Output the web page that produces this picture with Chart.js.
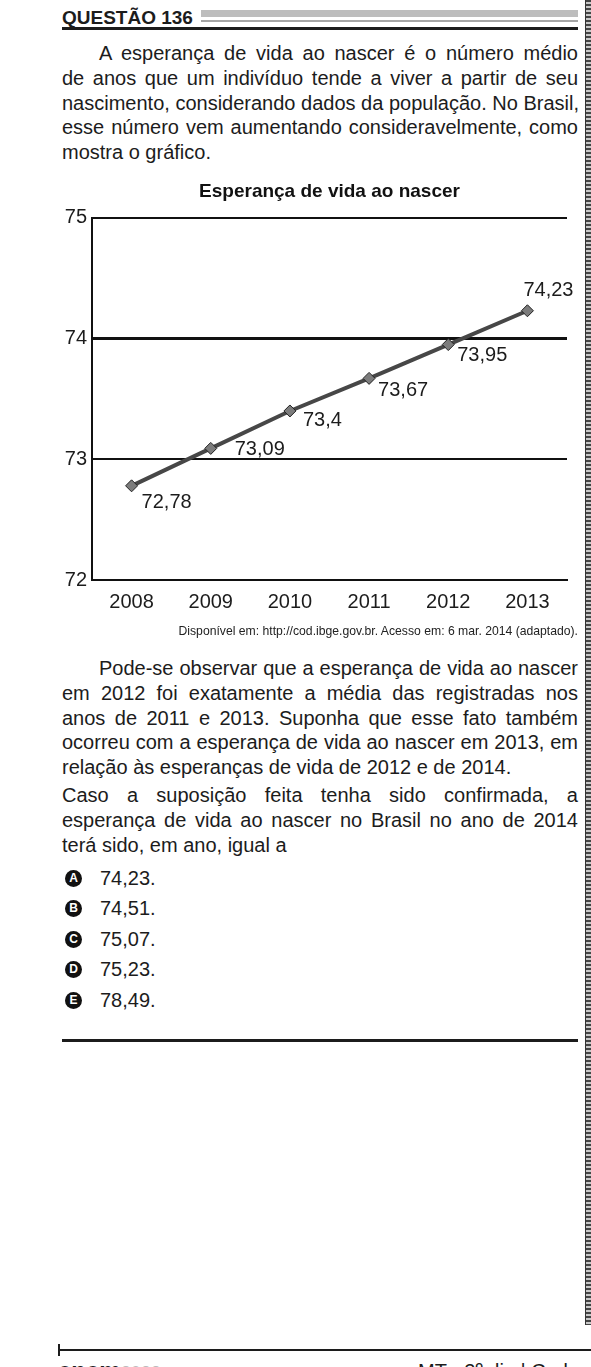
<!DOCTYPE html>
<html lang="pt-BR">
<head>
<meta charset="utf-8">
<title>Questão 136</title>
<script src="https://cdn.jsdelivr.net/npm/chart.js@4.4.1/dist/chart.umd.min.js"></script>
<style>
  html, body { margin: 0; padding: 0; background: #fff; }
  body { width: 591px; height: 1367px; position: relative; overflow: hidden;
         font-family: "Liberation Sans", Arial, sans-serif; color: #1c1c1c; }
  .abs { position: absolute; }
  #head-text { left: 62px; top: 7px; font-weight: bold; font-size: 19px; line-height: 22px; }
  #head-bar  { left: 201px; top: 10px; width: 377px; height: 7px; background: #bdbdbd; }
  #head-thin { left: 201px; top: 20px; width: 377px; height: 2px; background: #a5a5a5; }
  #head-rule { left: 62px; top: 27px; width: 516px; height: 3px; background: #1c1c1c; }
  .para { left: 62px; width: 516px; font-size: 20px; line-height: 24.75px; }
  .para div { text-align: justify; text-align-last: justify; white-space: nowrap; }
  .para div.last { text-align-last: left; }
  .para div.ind { padding-left: 37px; }
  #chart-box { left: 62px; top: 180px; width: 516px; height: 444px; }
  #source { right: 13px; top: 623px; font-size: 12.2px; line-height: 16px; color: #222; }
  .opt { left: 62px; height: 30.5px; display: flex; align-items: center; font-size: 20px; }
  .badge { flex: none; display: inline-block; width: 17px; height: 17px; border-radius: 50%;
           background: #111; color: #fff; font-weight: bold; font-size: 12px; line-height: 17px;
           text-align: center; margin-left: 3px; margin-right: 18px; }
  #end-rule { left: 62px; top: 1039px; width: 516px; height: 3px; background: #1c1c1c; }
  #stripe { left: 585px; top: 0; width: 5px; height: 1325px; border-left: 1px solid #333;
            background: repeating-linear-gradient(to bottom, #444 0 2px, #c8c8c8 2px 4px); }
  #foot-rule { left: 58px; top: 1349px; width: 533px; height: 2px; background: #1c1c1c; }
  #foot-tick { left: 58px; top: 1344px; width: 2px; height: 12px; background: #1c1c1c; }
  #foot-left { left: 58px; top: 1358px; font-size: 24px; font-weight: bold; line-height: 26px; }
  #foot-left span { font-weight: normal; color: #bbb; font-size: 18px; }
  #foot-right { left: 418px; top: 1358px; font-size: 20px; line-height: 26px; white-space: nowrap; }
</style>
</head>
<body>

<div id="head-text" class="abs">QUESTÃO 136</div>
<div id="head-bar" class="abs"></div>
<div id="head-thin" class="abs"></div>
<div id="head-rule" class="abs"></div>

<div class="abs para" style="top:41px">
  <div class="ind">A esperança de vida ao nascer é o número médio</div>
  <div>de anos que um indivíduo tende a viver a partir de seu</div>
  <div>nascimento, considerando dados da população. No Brasil,</div>
  <div>esse número vem aumentando consideravelmente, como</div>
  <div class="last">mostra o gráfico.</div>
</div>

<div id="chart-box" class="abs"><canvas id="chart"></canvas></div>

<div id="source" class="abs">Disponível em: http://cod.ibge.gov.br. Acesso em: 6 mar. 2014 (adaptado).</div>

<div class="abs para" style="top:656px">
  <div class="ind">Pode-se observar que a esperança de vida ao nascer</div>
  <div>em 2012 foi exatamente a média das registradas nos</div>
  <div>anos de 2011 e 2013. Suponha que esse fato também</div>
  <div>ocorreu com a esperança de vida ao nascer em 2013, em</div>
  <div class="last">relação às esperanças de vida de 2012 e de 2014.</div>
</div>

<div class="abs para" style="top:783px">
  <div>Caso a suposição feita tenha sido confirmada, a</div>
  <div>esperança de vida ao nascer no Brasil no ano de 2014</div>
  <div class="last">terá sido, em ano, igual a</div>
</div>

<div class="abs opt" style="top:863px"><span class="badge">A</span>74,23.</div>
<div class="abs opt" style="top:893.5px"><span class="badge">B</span>74,51.</div>
<div class="abs opt" style="top:924px"><span class="badge">C</span>75,07.</div>
<div class="abs opt" style="top:954.5px"><span class="badge">D</span>75,23.</div>
<div class="abs opt" style="top:985px"><span class="badge">E</span>78,49.</div>

<div id="end-rule" class="abs"></div>
<div id="stripe" class="abs"></div>
<div id="foot-tick" class="abs"></div>
<div id="foot-rule" class="abs"></div>
<div id="foot-left" class="abs">enem<span>2022</span></div>
<div id="foot-right" class="abs">MT - 2º dia | Caderno 6</div>

<script>
  // dados do gráfico
  const years = ['2008', '2009', '2010', '2011', '2012', '2013'];
  const lifeExpectancy = [72.78, 73.09, 73.4, 73.67, 73.95, 74.23];
  const valueLabels = ['72,78', '73,09', '73,4', '73,67', '73,95', '74,23'];
  const yTicks = [72, 73, 74, 75];

  // deslocamento de cada rótulo em relação ao seu ponto (px)
  const labelOffsets = [[10, 17], [24, 1], [13, 10], [9, 12], [9, 11], [-4, -20]];

  const FONT = '"Liberation Sans", Arial, sans-serif';
  Chart.defaults.font.family = FONT;
  Chart.defaults.color = '#1c1c1c';

  const pointLabels = {
    id: 'pointLabels',
    afterDatasetsDraw(chart) {
      const ctx = chart.ctx;
      const meta = chart.getDatasetMeta(0);
      ctx.save();
      ctx.font = '20px ' + FONT;
      ctx.fillStyle = '#1c1c1c';
      ctx.textAlign = 'left';
      ctx.textBaseline = 'middle';
      meta.data.forEach((pt, i) => {
        const off = labelOffsets[i] || [8, 12];
        ctx.fillText(valueLabels[i], pt.x + off[0], pt.y + off[1]);
      });
      ctx.restore();
    }
  };

  new Chart(document.getElementById('chart'), {
    type: 'line',
    data: {
      labels: years,
      datasets: [{
        data: lifeExpectancy,
        borderColor: '#474747',
        borderWidth: 4,
        tension: 0,
        pointStyle: 'rectRot',
        pointRadius: 6,
        pointBackgroundColor: '#7c7c7c',
        pointBorderColor: '#222',
        pointBorderWidth: 1
      }]
    },
    options: {
      responsive: true,
      maintainAspectRatio: false,
      animation: false,
      layout: { padding: { right: 11 } },
      plugins: {
        legend: { display: false },
        tooltip: { enabled: false },
        title: {
          display: true,
          text: 'Esperança de vida ao nascer',
          fullSize: false,
          color: '#111',
          font: { size: 19, weight: 'bold' },
          padding: { top: 0, bottom: 15 }
        }
      },
      scales: {
        x: {
          offset: true,
          grid: { display: false, drawTicks: false },
          border: { display: true, color: '#111', width: 2 },
          ticks: { font: { size: 20 }, color: '#1c1c1c', padding: 10 }
        },
        y: {
          min: yTicks[0],
          max: yTicks[yTicks.length - 1],
          afterBuildTicks(scale) { scale.ticks = yTicks.map(v => ({ value: v })); },
          afterFit(scale) { scale.width = 30; },
          grid: {
            color: '#111',
            drawTicks: false,
            lineWidth: c => (c.tick && c.tick.value === 74 ? 3 : 2)
          },
          border: { display: true, color: '#111', width: 2 },
          ticks: { font: { size: 20 }, color: '#1c1c1c', padding: 5 }
        }
      }
    },
    plugins: [pointLabels]
  });
</script>
</body>
</html>
